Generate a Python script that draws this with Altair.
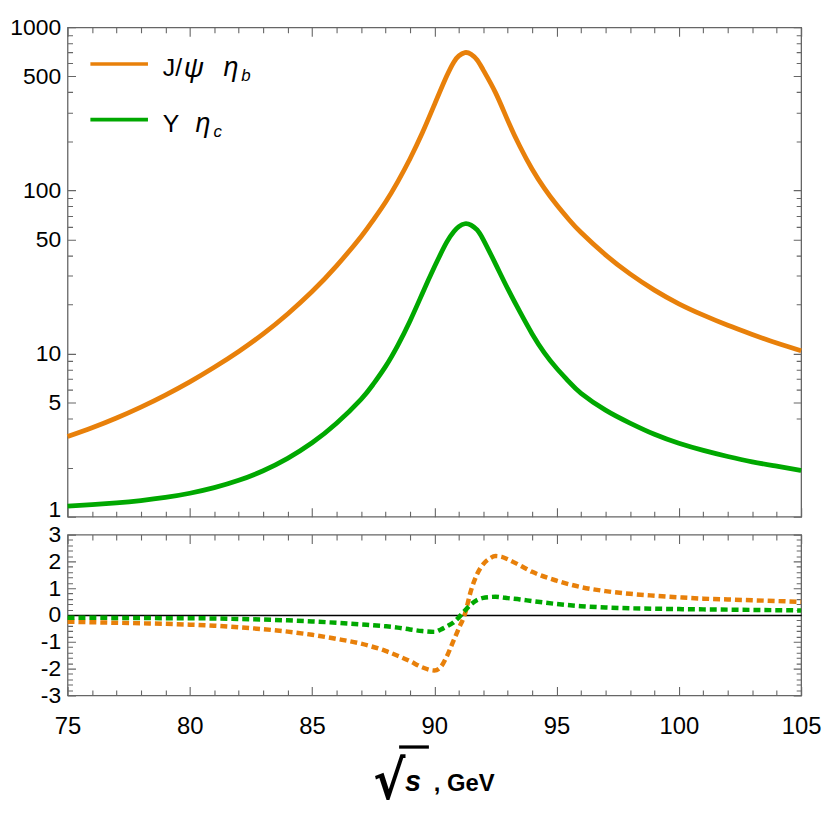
import altair as alt
import pandas as pd

# ---------------- data ----------------
x_top = [75, 76, 77, 78, 79, 80, 81, 82, 83, 84, 85, 86, 87, 87.5, 88, 88.5, 89, 89.5,
         90, 90.5, 90.8, 91, 91.25, 91.5, 91.75, 92, 92.5, 93, 93.5, 94, 94.5, 95, 95.5,
         96, 97, 98, 99, 100, 101, 102, 103, 104, 105]
jpsi_etab = [3.10, 3.51, 4.03, 4.70, 5.57, 6.71, 8.24, 10.3, 13.2, 17.5, 24.0, 34.5, 52.1,
             65.8, 84.7, 113, 156, 224, 335, 501, 614, 668, 700, 684, 631, 547, 398, 269,
             186, 135, 103, 81.7, 66.4, 55.2, 40.3, 30.8, 24.5, 20.2, 17.2, 14.9, 13.1,
             11.6, 10.4]
ups_etac = [1.16, 1.186, 1.216, 1.256, 1.312, 1.393, 1.507, 1.671, 1.914, 2.28, 2.84, 3.74,
            5.24, 6.49, 8.32, 11.2, 15.8, 23.2, 33.9, 48, 56, 60, 62.5, 61.3, 57.3, 50, 35.5,
            25, 18, 13.2, 10.1, 8.13, 6.73, 5.71, 4.5, 3.75, 3.2, 2.82, 2.55, 2.34, 2.17,
            2.04, 1.92]

x_bot = [75, 76, 77, 78, 79, 80, 81, 82, 83, 84, 85, 86, 87, 88, 88.5, 89, 89.5, 90, 90.25,
         90.5, 90.75, 91, 91.25, 91.5, 91.75, 92, 92.25, 92.5, 92.75, 93, 93.5, 94, 95, 96,
         97, 98, 99, 100, 101, 102, 103, 104, 105]
jpsi_etab_low = [-0.25, -0.27, -0.29, -0.31, -0.33, -0.36, -0.40, -0.46, -0.53, -0.62, -0.74,
                 -0.89, -1.07, -1.34, -1.52, -1.72, -1.95, -2.07, -1.95, -1.56, -1.03, -0.50,
                 0.04, 0.92, 1.53, 1.90, 2.10, 2.20, 2.17, 2.08, 1.85, 1.61, 1.28, 1.04, 0.89,
                 0.79, 0.72, 0.66, 0.61, 0.58, 0.55, 0.52, 0.49]
ups_etac_low = [-0.10, -0.10, -0.11, -0.11, -0.12, -0.12, -0.13, -0.15, -0.17, -0.20, -0.24,
                -0.29, -0.35, -0.42, -0.47, -0.54, -0.60, -0.63, -0.55, -0.43, -0.30, -0.09,
                0.17, 0.40, 0.56, 0.64, 0.67, 0.68, 0.66, 0.63, 0.58, 0.52, 0.41, 0.33, 0.28,
                0.25, 0.235, 0.22, 0.21, 0.20, 0.19, 0.18, 0.17]

series = ["J/ψ ηb", "Υ ηc"]
colors = ["#E8800A", "#00A800"]

x_ticks = list(range(75, 106))
y_ticks_top = [1, 2, 4, 5, 6, 7, 8, 9, 10, 20, 30, 40, 50, 60, 70, 80, 90,
               100, 200, 300, 400, 500, 600, 700, 800, 900, 1000]
y_labels_top = [1, 5, 10, 50, 100, 500, 1000]
y_labels_bot = [-3, -2, -1, 0, 1, 2, 3]
y_ticks_bot = [-3, -2.8, -2.6, -2.4, -2.2, -2, -1.8, -1.6, -1.4, -1.2, -1, -0.8, -0.6, -0.4,
               -0.2, 0, 0.2, 0.4, 0.6, 0.8, 1, 1.2, 1.4, 1.6, 1.8, 2, 2.2, 2.4, 2.6, 2.8, 3]

# ---------------- layout constants ----------------
W, H1, H2 = 739, 493, 162
FONT = "Liberation Sans"
FRAME = "#666666"

top_df = pd.concat([
    pd.DataFrame({"x": x_top, "y": jpsi_etab, "s": series[0]}),
    pd.DataFrame({"x": x_top, "y": ups_etac, "s": series[1]}),
])
bot_df = pd.concat([
    pd.DataFrame({"x": x_bot, "y": jpsi_etab_low, "s": series[0]}),
    pd.DataFrame({"x": x_bot, "y": ups_etac_low, "s": series[1]}),
])

color = alt.Color("s:N", scale=alt.Scale(domain=series, range=colors), legend=None)


def dash_pair(length, major, minor):
    return ([major, length - 2 * major, major, 2000], [minor, length - 2 * minor, minor, 2000])


def dash(length, major, minor, test):
    mj, mn = dash_pair(length, major, minor)
    return {"condition": {"test": test, "value": mj}, "value": mn}


x_major = "datum.value % 5 === 0"
y_major_top = "indexof(%s, datum.value) >= 0" % str(y_labels_top)
y_major_bot = "indexof(%s, datum.value) >= 0" % str(y_labels_bot)
is_zero = "datum.value === 0"

xscale = alt.Scale(domain=[75, 105], nice=False, zero=False)

x_axis_top = alt.Axis(values=x_ticks, labels=False, ticks=False, domain=False, title=None,
                      grid=True, gridColor=FRAME, gridWidth=1.1, gridOpacity=1,
                      gridDash=dash(H1, 9, 5.5, x_major))
y_axis_top = alt.Axis(values=y_ticks_top, ticks=False, domain=False, title=None,
                      grid=True, gridColor=FRAME, gridWidth=1.1, gridOpacity=1,
                      gridDash=dash(W, 8, 5, y_major_top),
                      labelExpr=y_major_top + " ? format(datum.value, 'd') : ''",
                      labelFont=FONT, labelFontSize=23, labelColor="black",
                      labelPadding=7, labelOverlap=False, labelFlush=False,
                      labelBaseline={"condition": {"test": "datum.value === 1",
                                                   "value": "alphabetic"},
                                     "value": "middle"})

lines_top = alt.Chart(top_df).mark_line(strokeWidth=4.8, interpolate="natural").encode(
    x=alt.X("x:Q", scale=xscale, axis=x_axis_top),
    y=alt.Y("y:Q", scale=alt.Scale(type="log", domain=[1, 1000], nice=False), axis=y_axis_top),
    color=color,
)

one = alt.InlineData(values=[{"k": 0}])


def label(text, x, y, size=25, style="normal", weight="normal", font=FONT):
    return alt.Chart(one).mark_text(text=text, align="left", baseline="alphabetic",
                                    fontSize=size, fontStyle=style, fontWeight=weight,
                                    font=font, color="black").encode(
        x=alt.value(x), y=alt.value(y))


def swatch(col, y):
    return alt.Chart(one).mark_rule(color=col, strokeWidth=3.6).encode(
        x=alt.value(23), x2=alt.value(81), y=alt.value(y))


legend = [
    swatch(colors[0], 37), swatch(colors[1], 93),
    label("J/", 96, 49), label("ψ", 117, 50, size=28, style="italic"),
    label("η", 157, 49, size=27, style="italic"), label("b", 175, 54, size=17, style="italic"),
    label("Υ", 96, 105), label("η", 129, 105, size=27, style="italic"),
    label("c", 147, 110, size=17, style="italic"),
]

top = alt.layer(lines_top, *legend).properties(width=W, height=H1)

x_axis_bot = alt.Axis(values=x_ticks, ticks=False, domain=False, title=None,
                      grid=True, gridColor=FRAME, gridWidth=1.1, gridOpacity=1,
                      gridDash=dash(H2, 9, 5.5, x_major),
                      labelExpr=x_major + " ? format(datum.value, 'd') : ''",
                      labelFont=FONT, labelFontSize=24, labelColor="black",
                      labelPadding=19, labelOverlap=False, labelFlush=False)

ybot_major, ybot_minor = dash_pair(W, 8, 5)
y_axis_bot = alt.Axis(values=y_ticks_bot, ticks=False, domain=False, title=None,
                      grid=True, gridOpacity=1,
                      gridColor={"condition": {"test": is_zero, "value": "black"},
                                 "value": FRAME},
                      gridWidth={"condition": {"test": is_zero, "value": 1.4},
                                 "value": 1.1},
                      gridDash={"condition": [{"test": is_zero, "value": []},
                                              {"test": y_major_bot, "value": ybot_major}],
                                "value": ybot_minor},
                      labelExpr=y_major_bot + " ? replace(format(datum.value, 'd'), '\u2212', '-') : ''",
                      labelFont=FONT, labelFontSize=23, labelColor="black",
                      labelPadding=7, labelOverlap=False, labelFlush=False)

yscale_bot = alt.Scale(domain=[-3, 3], nice=False, zero=False)
lines_bot = alt.Chart(bot_df).mark_line(strokeWidth=4.5, strokeDash=[7, 4],
                                        interpolate="monotone").encode(
    x=alt.X("x:Q", scale=xscale, axis=x_axis_bot),
    y=alt.Y("y:Q", scale=yscale_bot, axis=y_axis_bot),
    color=color,
)

title_parts = [
    label("√", 308, 266, size=54, weight="bold", font="DejaVu Sans Condensed, DejaVu Sans"),
    alt.Chart(one).mark_rule(color="black", strokeWidth=3.3).encode(
        x=alt.value(334), x2=alt.value(364), y=alt.value(214)),
    label("s", 340, 258, size=29, style="italic", weight="bold"),
    label(", GeV", 369, 258, size=24, weight="bold"),
]

bottom = alt.layer(lines_bot, *title_parts).properties(width=W, height=H2)

chart = alt.vconcat(top, bottom, spacing=18, bounds="flush").properties(
    padding={"left": 1, "top": 4.5, "right": 0, "bottom": 0}
).configure_view(stroke=FRAME, strokeWidth=1.3)

chart.save("out.html", embed_options={"renderer": "svg", "actions": False})
